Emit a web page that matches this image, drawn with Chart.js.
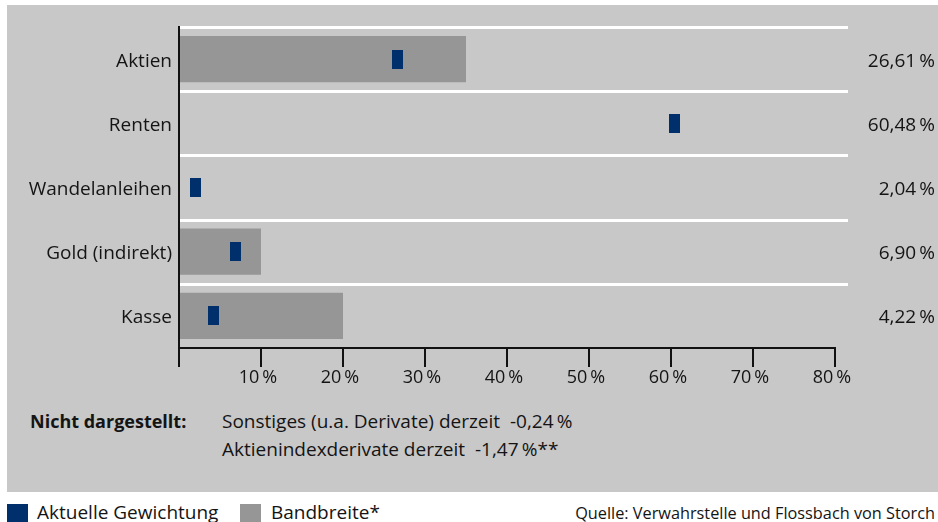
<!DOCTYPE html>
<html lang="de">
<head>
<meta charset="utf-8">
<script src="https://cdn.jsdelivr.net/npm/chart.js@4.4.1/dist/chart.umd.min.js"></script>
<style>
  html, body { margin: 0; padding: 0; background: #fff; }
  body { width: 938px; height: 522px; position: relative; overflow: hidden; font-family: "Open Sans", sans-serif; color: #141414; }
  #panel { position: absolute; left: 7px; top: 5px; width: 931px; height: 487px; background: #c8c8c8; }
  #wrap { position: absolute; left: 0; top: 0; width: 938px; height: 400px; }
  .txt { position: absolute; font-size: 19px; line-height: 22px; white-space: nowrap; }
  .sq { position: absolute; width: 21px; height: 18px; }
</style>
</head>
<body>
<div id="panel"></div>
<div id="wrap"><canvas id="allocationChart"></canvas></div>

<div class="txt" style="left:30px; top:410px; font-size:18px; font-weight:bold;">Nicht dargestellt:</div>
<div class="txt" style="left:222px; top:410px;">Sonstiges (u.a. Derivate) derzeit &nbsp;-0,24&#8201;%</div>
<div class="txt" style="left:222px; top:438px;">Aktienindexderivate derzeit &nbsp;-1,47&#8201;%**</div>

<div class="sq" style="left:7px; top:504px; background:#00306b;"></div>
<div class="txt" style="left:37px; top:501px;">Aktuelle Gewichtung</div>
<div class="sq" style="left:240px; top:504px; background:#969696;"></div>
<div class="txt" style="left:271px; top:501px;">Bandbreite*</div>
<div class="txt" style="right:3px; top:502px; font-size:16.3px;">Quelle: Verwahrstelle und Flossbach von Storch</div>

<script>
// Asset allocation chart
const categories = ['Aktien', 'Renten', 'Wandelanleihen', 'Gold (indirekt)', 'Kasse'];
const currentWeight = [26.61, 60.48, 2.04, 6.90, 4.22];
const rangeMax = [35, null, null, 10, 20];
const xTicks = [0, 10, 20, 30, 40, 50, 60, 70, 80];

const NAVY = '#00306b';
const RANGE_GREY = '#969696';
const TEXT = '#141414';

// small navy block used as point marker
const marker = document.createElement('canvas');
marker.width = 11;
marker.height = 19;
const mctx = marker.getContext('2d');
mctx.fillStyle = NAVY;
mctx.fillRect(0, 0, 11, 19);

const fmtPct = v => v.toFixed(2).replace('.', ',') + '\u2009%';

// white separators between rows, a bit longer than the plot
const rowLines = {
    id: 'rowLines',
    beforeDatasetsDraw(chart) {
        const { ctx, chartArea, scales } = chart;
        const y = scales.y;
        const step = y.getPixelForValue(1) - y.getPixelForValue(0);
        ctx.save();
        ctx.strokeStyle = '#ffffff';
        ctx.lineWidth = 3;
        for (let i = 0; i < categories.length; i++) {
            const py = Math.round(y.getPixelForValue(i) - step / 2) + 0.5;
            ctx.beginPath();
            ctx.moveTo(chartArea.left + 1, py);
            ctx.lineTo(chartArea.right + 13, py);
            ctx.stroke();
        }
        ctx.restore();
    }
};

// value labels on the right side
const valueLabels = {
    id: 'valueLabels',
    afterDraw(chart) {
        const { ctx, scales } = chart;
        ctx.save();
        ctx.font = '19px "Open Sans"';
        ctx.fillStyle = TEXT;
        ctx.textAlign = 'right';
        ctx.textBaseline = 'middle';
        currentWeight.forEach((v, i) => {
            ctx.fillText(fmtPct(v), chart.width - 3, scales.y.getPixelForValue(i) + 2);
        });
        ctx.restore();
    }
};

const allocationChart = document.getElementById('allocationChart');
if (allocationChart) {
    const allocationData = {
        labels: categories,
        datasets: [{
            type: 'bar',
            label: 'Bandbreite*',
            data: rangeMax.map(v => v === null ? null : [0, v]),
            backgroundColor: RANGE_GREY,
            borderWidth: 0,
            categoryPercentage: 1,
            barPercentage: 0.72,
            order: 2
        }, {
            type: 'line',
            label: 'Aktuelle Gewichtung',
            data: currentWeight,
            showLine: false,
            pointStyle: marker,
            pointRadius: 6,
            pointHoverRadius: 6,
            order: 1
        }]
    };
    const allocationOptions = {
        indexAxis: 'y',
        responsive: true,
        maintainAspectRatio: false,
        animation: false,
        layout: {
            padding: { top: 27, right: 103, bottom: 0, left: 0 }
        },
        scales: {
            x: {
                type: 'linear',
                min: 0,
                max: 80,
                afterBuildTicks: scale => { scale.ticks = xTicks.map(v => ({ value: v })); },
                afterFit: scale => { scale.height = 52; },
                grid: {
                    drawOnChartArea: false,
                    drawTicks: true,
                    tickLength: 19,
                    color: '#111',
                    lineWidth: 2
                },
                border: { display: true, color: '#111', width: 2 },
                ticks: {
                    padding: 0,
                    labelOffset: -3,
                    color: TEXT,
                    font: { family: 'Open Sans', size: 18 },
                    maxRotation: 0,
                    callback: v => v === 0 ? '' : v + '\u2009%'
                }
            },
            y: {
                type: 'category',
                afterFit: scale => { scale.width = 179; },
                grid: { display: false, drawTicks: false },
                border: { display: true, color: '#111', width: 2 },
                ticks: {
                    padding: 7,
                    labelOffset: 2,
                    color: TEXT,
                    font: { family: 'Open Sans', size: 19 }
                }
            }
        },
        plugins: {
            legend: { display: false },
            tooltip: { enabled: false }
        }
    };
    new Chart(allocationChart, {
        data: allocationData,
        options: allocationOptions,
        plugins: [rowLines, valueLabels]
    });
}
</script>
</body>
</html>
